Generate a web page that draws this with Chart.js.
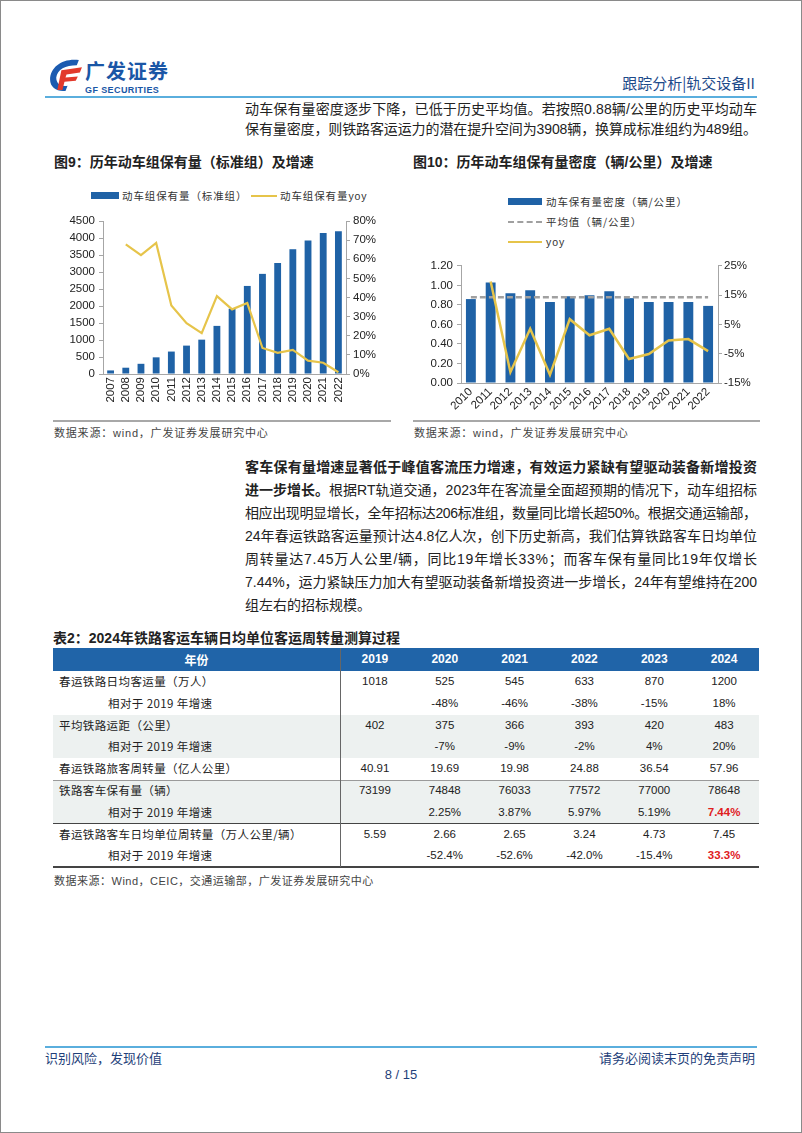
<!DOCTYPE html>
<html>
<head>
<meta charset="utf-8">
<script src="https://cdn.jsdelivr.net/npm/chart.js@4.4.1/dist/chart.umd.min.js"></script>
<style>
body { margin: 0; background: #fff; }
#page { position: relative; width: 802px; height: 1133px; box-sizing: border-box; border: 1px solid #8a8a8a; overflow: hidden;
        font-family: "Liberation Sans", "Noto Sans CJK SC", sans-serif; color: #222; }
.abs { position: absolute; }
.ln { position: absolute; left: 244px; width: 512px; font-size: 14px; line-height: 20px; white-space: nowrap; }
.figt { position: absolute; top: 151px; font-size: 14px; font-weight: bold; line-height: 20px; color: #222; }
.src { position: absolute; font-size: 11px; line-height: 14px; color: #444; letter-spacing: 0.8px; }
.rule { position: absolute; height: 2px; background: #a8a8a8; }
.lg { position: absolute; font-size: 10.5px; line-height: 14px; color: #333; letter-spacing: 0.9px; font-family: "Noto Sans CJK SC", sans-serif; }
.lg span.t { font-family: "Liberation Sans", "Noto Sans CJK SC", sans-serif; }
.cell { position: absolute; height: 21.8px; line-height: 21.8px; font-size: 11.5px; text-align: center; white-space: nowrap; }
.hd { color: #fff; font-weight: bold; font-size: 12px; }
canvas { position: absolute; }
</style>
</head>
<body>
<div id="page">

<!-- header -->
<svg class="abs" style="left:46px;top:57px" width="37" height="35" viewBox="0 0 36 34">
  <path d="M31,2 C15,0 3,9 3,21 C3,29 10,33 18,32 L20,27 C13,28 9,25 9,19 C10,11 18,7 29,7 Z" fill="#1C5BB0"/>
  <path d="M14,12 L34,9 L32,14 L19,16 L18,19 L30,18 L28,22 L17,23 L15,31 L10,31 Z" fill="#E23A2C"/>
</svg>
<div class="abs" style="left:84px;top:60px;font-size:20px;font-weight:bold;line-height:20px;letter-spacing:1px;color:#1A56A6;font-family:'Noto Sans CJK SC',sans-serif">广发证券</div>
<div class="abs" style="left:84px;top:85px;font-size:9px;font-weight:bold;line-height:9px;color:#1A56A6;letter-spacing:0.4px">GF SECURITIES</div>
<div class="abs" style="right:46px;top:72px;font-size:15px;line-height:20px;color:#1D4A8A;font-family:'Noto Sans CJK SC',sans-serif">跟踪分析|轨交设备II</div>
<div class="abs" style="left:44px;top:95px;width:712px;height:2px;background:#5AAEDD"></div>

<!-- paragraph 1 -->
<div class="ln just" style="top:98px">动车保有量密度逐步下降，已低于历史平均值。若按照0.88辆/公里的历史平均动车</div>
<div class="ln just" style="top:118px">保有量密度，则铁路客运运力的潜在提升空间为3908辆，换算成标准组约为489组。</div>

<!-- figure titles -->
<div class="figt" style="left:53px">图9：历年动车组保有量（标准组）及增速</div>
<div class="figt" style="left:412px">图10：历年动车组保有量密度（辆/公里）及增速</div>

<!-- legend chart 1 -->
<div class="abs" style="left:90px;top:191px;width:28px;height:7px;background:#1F62A6"></div>
<div class="lg" style="left:121px;top:188px">动车组保有量（标准组）</div>
<div class="abs" style="left:250px;top:194px;width:26px;height:2px;background:#E6C44A"></div>
<div class="lg" style="left:279px;top:188px">动车组保有量<span class="t">yoy</span></div>

<!-- legend chart 2 -->
<div class="abs" style="left:507px;top:197px;width:34px;height:7px;background:#1F62A6"></div>
<div class="lg" style="left:545px;top:194px">动车保有量密度（辆/公里）</div>
<div class="abs" style="left:507px;top:220px;width:34px;height:0;border-top:2px dashed #a0a0a0"></div>
<div class="lg" style="left:545px;top:214px">平均值（辆/公里）</div>
<div class="abs" style="left:507px;top:240px;width:34px;height:2px;background:#E6C44A"></div>
<div class="lg" style="left:545px;top:234px"><span class="t">yoy</span></div>

<canvas id="c1" width="338" height="205" style="left:51px;top:209px;width:338px;height:205px"></canvas>
<canvas id="c2" width="347" height="160" style="left:412px;top:254px;width:347px;height:160px"></canvas>

<div class="rule" style="left:52px;top:419px;width:338px"></div>
<div class="rule" style="left:412px;top:419px;width:347px"></div>
<div class="src" style="left:53px;top:425px">数据来源：wind，广发证券发展研究中心</div>
<div class="src" style="left:413px;top:425px">数据来源：wind，广发证券发展研究中心</div>

<!-- paragraph 2 -->
<div class="ln just" style="top:456px;font-weight:bold">客车保有量增速显著低于峰值客流压力增速，有效运力紧缺有望驱动装备新增投资</div>
<div class="ln just" style="top:479px"><b>进一步增长。</b>根据RT轨道交通，2023年在客流量全面超预期的情况下，动车组招标</div>
<div class="ln just" style="top:502px">相应出现明显增长，全年招标达206标准组，数量同比增长超50%。根据交通运输部，</div>
<div class="ln just" style="top:525px">24年春运铁路客运量预计达4.8亿人次，创下历史新高，我们估算铁路客车日均单位</div>
<div class="ln just" style="top:548px">周转量达7.45万人公里/辆，同比19年增长33%；而客车保有量同比19年仅增长</div>
<div class="ln just" style="top:571px">7.44%，运力紧缺压力加大有望驱动装备新增投资进一步增长，24年有望维持在200</div>
<div class="ln" style="top:594px">组左右的招标规模。</div>

<!-- table -->
<div class="abs" style="left:52px;top:627px;font-size:14px;font-weight:bold;line-height:20px">表2：2024年铁路客运车辆日均单位客运周转量测算过程</div>
<div id="tbl"></div>
<div class="src" style="left:53px;top:873px;letter-spacing:0.5px">数据来源：Wind，CEIC，交通运输部，广发证券发展研究中心</div>

<!-- footer -->
<div class="abs" style="left:44px;top:1045px;width:712px;height:2px;background:#5AAEDD"></div>
<div class="abs" style="left:44px;top:1048px;font-size:13px;line-height:18px;color:#1F3F7A;font-family:'Noto Sans CJK SC',sans-serif">识别风险，发现价值</div>
<div class="abs" style="right:46px;top:1048px;font-size:13px;line-height:18px;color:#1F3F7A;font-family:'Noto Sans CJK SC',sans-serif">请务必阅读末页的免责声明</div>
<div class="abs" style="left:0;width:800px;top:1066px;text-align:center;font-size:13px;line-height:16px;color:#1F3F7A">8 / 15</div>

</div>

<script>
// 图9 动车组保有量
var years1 = ['2007', '2008', '2009', '2010', '2011', '2012', '2013', '2014', '2015', '2016', '2017', '2018', '2019', '2020', '2021', '2022'];
var emuSets = [105, 185, 300, 490, 660, 835, 1010, 1415, 1920, 2590, 2945, 3265, 3670, 3925, 4150, 4195];
var emuYoy = [null, 67.8, 62.2, 68.5, 35.8, 26.6, 21.4, 40.7, 33.8, 37.1, 13.6, 11.1, 12.6, 7.0, 5.9, 0.9];

// 图10 动车组保有量密度
var years2 = ['2010', '2011', '2012', '2013', '2014', '2015', '2016', '2017', '2018', '2019', '2020', '2021', '2022'];
var density = [0.86, 1.03, 0.92, 0.95, 0.83, 0.89, 0.90, 0.94, 0.87, 0.83, 0.83, 0.83, 0.79];
var densityAvg = [0.88, 0.88, 0.88, 0.88, 0.88, 0.88, 0.88, 0.88, 0.88, 0.88, 0.88, 0.88, 0.88];
var densityYoy = [null, 19.7, -11.3, 3.5, -12.2, 6.8, 1.3, 3.5, -6.8, -5.1, -0.5, 0.0, -4.1];

// 表2
var tableYears = ['2019', '2020', '2021', '2022', '2023', '2024'];
var tableRows = [
    ['春运铁路日均客运量（万人）', ['1018', '525', '545', '633', '870', '1200']],
    ['相对于 2019 年增速', ['', '-48%', '-46%', '-38%', '-15%', '18%']],
    ['平均铁路运距（公里）', ['402', '375', '366', '393', '420', '483']],
    ['相对于 2019 年增速', ['', '-7%', '-9%', '-2%', '4%', '20%']],
    ['春运铁路旅客周转量（亿人公里）', ['40.91', '19.69', '19.98', '24.88', '36.54', '57.96']],
    ['铁路客车保有量（辆）', ['73199', '74848', '76033', '77572', '77000', '78648']],
    ['相对于 2019 年增速', ['', '2.25%', '3.87%', '5.97%', '5.19%', '7.44%']],
    ['春运铁路客车日均单位周转量（万人公里/辆）', ['5.59', '2.66', '2.65', '3.24', '4.73', '7.45']],
    ['相对于 2019 年增速', ['', '-52.4%', '-52.6%', '-42.0%', '-15.4%', '33.3%']]
];
var shadedRows = [2, 3, 5, 6];
var redCells = [[6, 5], [8, 5]];

var BLUE = '#1F62A6';
var YELLOW = '#E6C44A';
var AXIS = '#a6a6a6';
var tickFont = { family: 'Liberation Sans', size: 11.5 };

// spread each full text line over the column width
function justifyLines() {
    document.querySelectorAll('.ln.just').forEach(function (el) {
        var n = el.textContent.length;
        var span = document.createElement('span');
        span.innerHTML = el.innerHTML;
        el.innerHTML = '';
        el.appendChild(span);
        var w = span.getBoundingClientRect().width;
        var target = el.clientWidth;
        el.style.letterSpacing = ((target - w) / (n - 1)) + 'px';
    });
}
justifyLines();

function buildTable() {
    var tbl = document.getElementById('tbl');
    var html = '';
    var left = 52, sep = 339, right = 758, top = 647;
    var colW = (right - sep) / tableYears.length;
    html += '<div class="abs" style="left:' + left + 'px;top:' + top + 'px;width:' + (right - left) + 'px;height:23px;background:#2064A8"></div>';
    html += '<div class="cell hd" style="left:' + left + 'px;top:' + (top + 1) + 'px;width:' + (sep - left) + 'px;font-family:\'Noto Sans CJK SC\'">年份</div>';
    tableYears.forEach(function (y, i) {
        html += '<div class="cell hd" style="left:' + (sep + i * colW) + 'px;top:' + (top + 1) + 'px;width:' + colW + 'px">' + y + '</div>';
    });
    var rowTop = top + 23;
    tableRows.forEach(function (row, r) {
        var y = rowTop + r * 21.8;
        if (shadedRows.indexOf(r) >= 0) {
            html += '<div class="abs" style="left:' + left + 'px;top:' + y + 'px;width:' + (right - left) + 'px;height:21.8px;background:#EDF1F0"></div>';
        }
        var sub = row[0].indexOf('相对于') === 0;
        html += '<div class="cell" style="left:' + (sub ? 107 : 58) + 'px;top:' + y + 'px;text-align:left;font-family:\'Noto Sans CJK SC\';letter-spacing:0.4px">' + row[0] + '</div>';
        row[1].forEach(function (v, c) {
            var red = redCells.some(function (rc) { return rc[0] === r && rc[1] === c; });
            html += '<div class="cell" style="left:' + (sep + c * colW) + 'px;top:' + y + 'px;width:' + colW + 'px;' +
                (red ? 'color:#E0201E;font-weight:bold;' : '') + '">' + v + '</div>';
        });
    });
    // lines
    html += '<div class="abs" style="left:' + left + 'px;top:' + (rowTop + 5 * 21.8 - 0.5) + 'px;width:' + (right - left) + 'px;height:1px;background:#9a9a9a"></div>';
    html += '<div class="abs" style="left:' + left + 'px;top:' + (rowTop + 7 * 21.8 - 1) + 'px;width:' + (right - left) + 'px;height:1.5px;background:#444"></div>';
    html += '<div class="abs" style="left:' + left + 'px;top:' + (rowTop + 9 * 21.8 - 1) + 'px;width:' + (right - left) + 'px;height:1.5px;background:#444"></div>';
    html += '<div class="abs" style="left:' + sep + 'px;top:' + top + 'px;width:1px;height:' + (23 + 9 * 21.8) + 'px;background:#666"></div>';
    tbl.innerHTML = html;
}
buildTable();

new Chart(document.getElementById('c1'), {
    data: {
        labels: years1,
        datasets: [{
            type: 'line',
            label: '动车组保有量yoy',
            data: emuYoy,
            yAxisID: 'y1',
            borderColor: YELLOW,
            borderWidth: 2.2,
            pointRadius: 0,
            tension: 0,
            order: 0
        }, {
            type: 'bar',
            label: '动车组保有量（标准组）',
            data: emuSets,
            yAxisID: 'y',
            backgroundColor: BLUE,
            barPercentage: 0.45,
            categoryPercentage: 1,
            order: 1
        }]
    },
    options: {
        responsive: false,
        animation: false,
        layout: { padding: { top: 11 } },
        plugins: { legend: { display: false }, tooltip: { enabled: false } },
        scales: {
            x: {
                grid: { display: true, drawOnChartArea: false, drawTicks: false },
                border: { color: AXIS },
                ticks: { font: tickFont, color: '#222', minRotation: 90, maxRotation: 90, autoSkip: false, padding: 3 },
                afterFit: function (s) { s.height = 41; }
            },
            y: {
                position: 'left',
                min: 0, max: 4500,
                grid: { drawOnChartArea: false, tickLength: 4, color: AXIS },
                border: { color: AXIS },
                ticks: { stepSize: 500, font: tickFont, color: '#222', padding: 4, callback: function (v) { return String(v); } },
                afterFit: function (s) { s.width = 51; }
            },
            y1: {
                position: 'right',
                min: 0, max: 80,
                grid: { drawOnChartArea: false, tickLength: 4, color: AXIS },
                border: { color: AXIS },
                ticks: { stepSize: 10, font: tickFont, color: '#222', padding: 3, callback: function (v) { return v + '%'; } },
                afterFit: function (s) { s.width = 44; }
            }
        }
    }
});

new Chart(document.getElementById('c2'), {
    data: {
        labels: years2,
        datasets: [{
            type: 'line',
            label: 'yoy',
            data: densityYoy,
            yAxisID: 'y1',
            borderColor: YELLOW,
            borderWidth: 2.5,
            pointRadius: 0,
            tension: 0,
            order: 0
        }, {
            type: 'line',
            label: '平均值（辆/公里）',
            data: densityAvg,
            yAxisID: 'y',
            borderColor: '#a0a0a0',
            borderWidth: 2.5,
            borderDash: [6, 3],
            pointRadius: 0,
            order: 1
        }, {
            type: 'bar',
            label: '动车保有量密度（辆/公里）',
            data: density,
            yAxisID: 'y',
            backgroundColor: BLUE,
            barPercentage: 0.5,
            categoryPercentage: 1,
            order: 2
        }]
    },
    options: {
        responsive: false,
        animation: false,
        layout: { padding: { top: 9 } },
        plugins: { legend: { display: false }, tooltip: { enabled: false } },
        scales: {
            x: {
                grid: { display: true, drawOnChartArea: false, drawTicks: false },
                border: { color: AXIS },
                ticks: { font: tickFont, color: '#222', minRotation: 45, maxRotation: 45, autoSkip: false, padding: 2 },
                afterFit: function (s) { s.height = 32; }
            },
            y: {
                position: 'left',
                min: 0, max: 1.2,
                grid: { drawOnChartArea: false, tickLength: 4, color: AXIS },
                border: { color: AXIS },
                ticks: { stepSize: 0.2, font: tickFont, color: '#222', padding: 4, callback: function (v) { return v.toFixed(2); } },
                afterFit: function (s) { s.width = 48; }
            },
            y1: {
                position: 'right',
                min: -15, max: 25,
                grid: { drawOnChartArea: false, tickLength: 4, color: AXIS },
                border: { color: AXIS },
                ticks: { stepSize: 5, font: tickFont, color: '#222', padding: 2, callback: function (v) { return v + '%'; } },
                afterFit: function (s) { s.width = 42; }
            }
        }
    }
});
</script>
</body>
</html>
